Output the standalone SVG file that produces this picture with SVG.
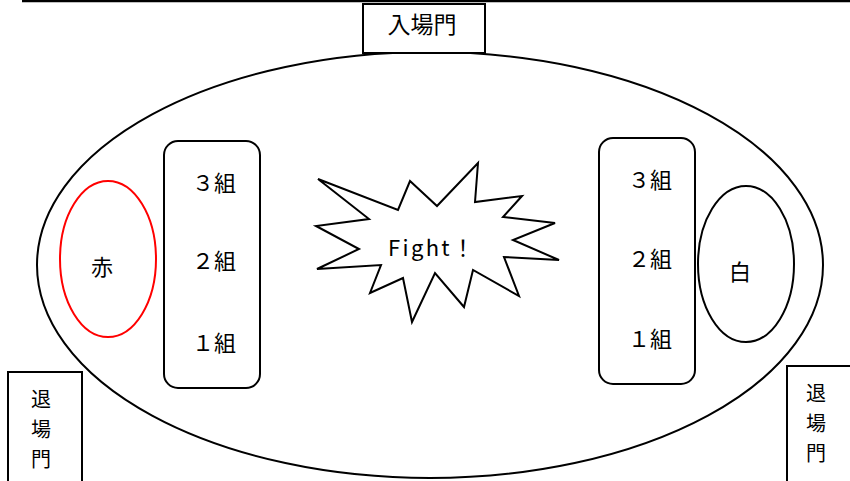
<svg xmlns="http://www.w3.org/2000/svg" width="850" height="481" viewBox="0 0 850 481">
<style>
.ln{fill:none;stroke:#000;stroke-width:2}
.bx{fill:#fff;stroke:#000;stroke-width:2}
.t{font-family:"Noto Sans CJK JP","Noto Sans",sans-serif;font-size:22px;fill:#000;text-anchor:middle}
.v{font-size:20px}
</style>
<rect width="850" height="481" fill="#fff"/>
<g id="connectors">
<line x1="22" y1="1" x2="850" y2="1" stroke="#000" stroke-width="2.5"/>
</g>
<g id="arena"><ellipse cx="430" cy="265" rx="393" ry="213" class="ln"/></g>
<g id="entrance"><rect x="363" y="4" width="122" height="49" class="bx"/><text x="422" y="33" class="t" style="font-size:23px">入場門</text></g>
<g id="exit-left"><rect x="8" y="372" width="74" height="120" class="bx"/>
<text x="41" y="407" class="t v">退</text><text x="41" y="437" class="t v">場</text><text x="41" y="467" class="t v">門</text></g>
<g id="exit-right"><rect x="787" y="366" width="70" height="120" class="bx"/>
<text x="816" y="401" class="t v">退</text><text x="816" y="431" class="t v">場</text><text x="816" y="461" class="t v">門</text></g>
<g id="red"><ellipse cx="108" cy="259" rx="48" ry="78" fill="none" stroke="#f00" stroke-width="2"/><text x="102" y="275" class="t">赤</text></g>
<g id="white"><ellipse cx="746" cy="264" rx="48" ry="78" class="ln"/><text x="740" y="280" class="t">白</text></g>
<g id="red-teams"><rect x="164" y="141" width="96" height="247" rx="14" class="ln"/>
<text x="214" y="191" class="t">３組</text><text x="214" y="269" class="t">２組</text><text x="214" y="351" class="t">１組</text></g>
<g id="white-teams"><rect x="599" y="138" width="96" height="246" rx="14" class="ln"/>
<text x="650" y="188" class="t">３組</text><text x="650" y="267" class="t">２組</text><text x="650" y="347" class="t">１組</text></g>
<g id="fight"><polygon class="bx" points="318,179 398,210 410,181 437,206 478,163 475,202 522,196 503,217 555,223 513,240 559,260 504,257 519,296 473,270 464,307 435,273 412,322 403,278 370,293 381,265 317,269 359,249 316,226 369,219"/>
<text x="431" y="256" class="t" textLength="86" lengthAdjust="spacing">Fight！</text></g>
</svg>
